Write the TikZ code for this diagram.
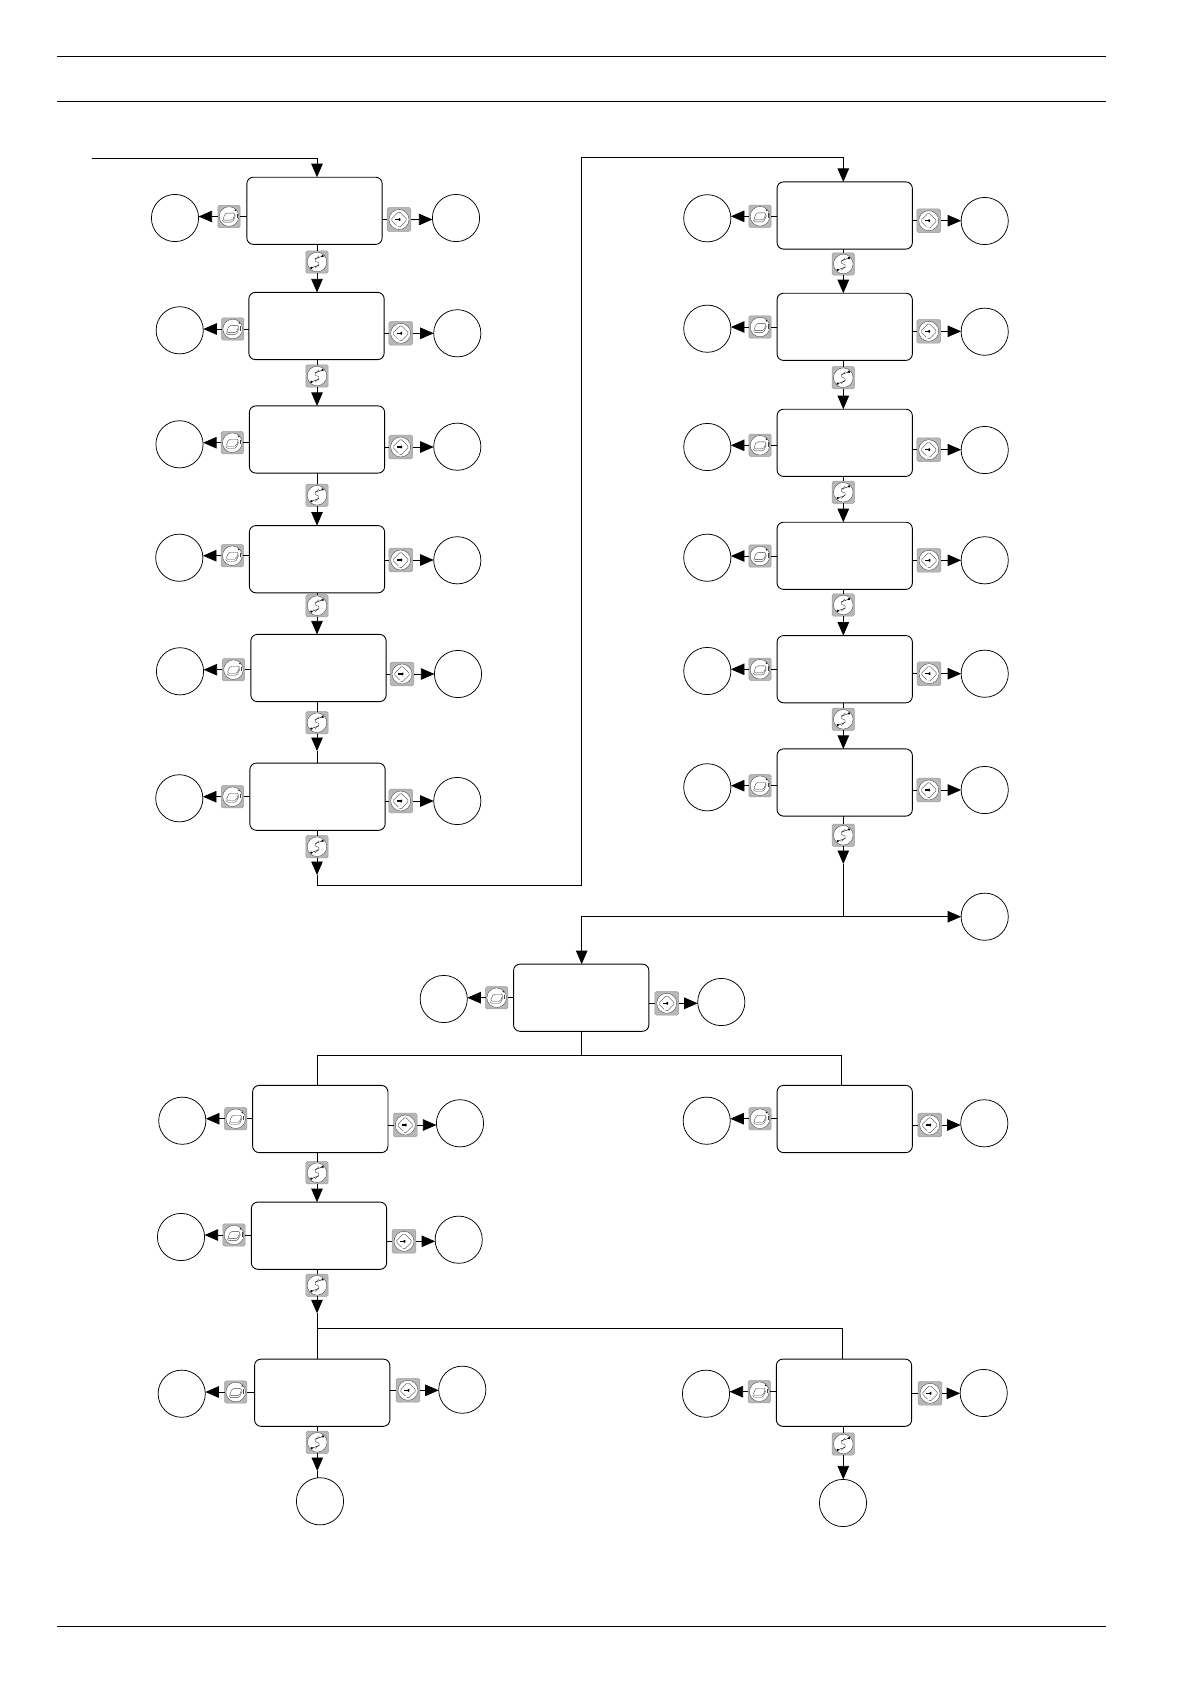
\documentclass[tikz,border=0pt]{standalone}
\usepackage{tikz}
\usetikzlibrary{arrows.meta}
\definecolor{keygrey}{gray}{0.72}
\definecolor{glyphgrey}{gray}{0.25}
\tikzset{
  menubox/.style={draw,fill=white,line width=0.9pt,rounded corners=6.5pt,minimum width=135.3bp,minimum height=67.2bp,inner sep=0pt,outer sep=0pt},
  exitnode/.style={draw,circle,fill=white,line width=0.75pt,minimum size=47.2bp,inner sep=0pt,outer sep=0pt},
  softkey/.style={draw=gray!80,fill=keygrey,line width=0.5pt,rounded corners=1.5pt,minimum size=22.3bp,inner sep=0pt,outer sep=0pt},
  flow/.style={line width=0.8pt,-{Triangle[length=13.5bp,width=11.5bp]}},
  plain/.style={line width=0.8pt},
  keyleft/.style={softkey,path picture={
    \begin{scope}[shift={(path picture bounding box.center)},glyphgrey,line width=0.35pt]
      \draw[fill=white] (0,0) circle (9.8bp);
      \draw (-6.4,3.6) -- (3.6,3.6) -- (6.4,-3.4) -- (-3.6,-3.4) -- cycle;
      \draw (-6.4,3.6) -- (-6.4,5.6) -- (3.6,5.6) -- (6.4,-0.8);
      \draw (7.8,-3) -- (7.8,1.6);
      \fill[black] (5.2,-7.4) -- (8.2,-6.6) -- (6,-4.4) -- cycle;
    \end{scope}}},
  keyright/.style={softkey,minimum size=23.6bp,path picture={
    \begin{scope}[shift={(path picture bounding box.center)},glyphgrey,line width=0.35pt]
      \draw[fill=white] (0,0) circle (10bp);
      \draw (-2.4,6) -- (-8.2,0.2) -- (0,-8.2) -- (8.2,0) -- (0,8.4) -- (-1.2,7.2);
      \draw[black,line width=1.3pt] (-3.6,0) -- (0,0);
      \fill[black] (-0.4,-2.4) -- (2.6,0) -- (-0.4,2.4) -- cycle;
    \end{scope}}},
  keydown/.style={softkey,path picture={
    \begin{scope}[shift={(path picture bounding box.center)},glyphgrey,line width=0.35pt]
      \draw[fill=white] (0,0) circle (9.8bp);
      \draw (2,-6.2) -- (-3,-1.2) -- (3,1.2) -- (-2,6.2);
      \draw[black,line width=0.4pt] (-2,-3.2) -- (5,-5.6);
      \draw[black,line width=0.4pt] (2,3.2) -- (-5,5.6);
      \fill[black] (4,-7.4) -- (7.8,-6.4) -- (5,-3.8) -- cycle;
      \fill[black] (-4,7.4) -- (-7.8,6.4) -- (-5,3.8) -- cycle;
    \end{scope}}}
}

\begin{document}
\begin{tikzpicture}[x=1bp,y=-1bp]
\useasboundingbox (0,0) rectangle (1190,1684);
\draw[plain] (57,56.2) -- (1106,56.2);
\draw[plain] (57,101.4) -- (1106,101.4);
\draw[plain] (57,1626) -- (1106,1626);

\node[menubox] (a1) at (314.5,210.8) {};
\node[exitnode] (a1cl) at (175,218) {};
\node[exitnode] (a1cr) at (456,218) {};
\node[keyleft] (a1kl) at (229,216.5) {};
\node[keyright] (a1kr) at (399,219.5) {};
\node[keydown] (a1kd) at (317,262) {};
\node[menubox] (a2) at (316.5,326) {};
\node[exitnode] (a2cl) at (179.7,330.3) {};
\node[exitnode] (a2cr) at (457.3,333.3) {};
\node[keyleft] (a2kl) at (232.7,329) {};
\node[keyright] (a2kr) at (400.7,333.3) {};
\node[keydown] (a2kd) at (317,376) {};
\node[menubox] (a3) at (317,439.5) {};
\node[exitnode] (a3cl) at (179.5,444.3) {};
\node[exitnode] (a3cr) at (457.3,446.7) {};
\node[keyleft] (a3kl) at (232.3,442.7) {};
\node[keyright] (a3kr) at (400.7,447) {};
\node[keydown] (a3kd) at (317,495.3) {};
\node[menubox] (a4) at (317,559.2) {};
\node[exitnode] (a4cl) at (179.3,557.7) {};
\node[exitnode] (a4cr) at (457.3,560.3) {};
\node[keyleft] (a4kl) at (232.3,555.7) {};
\node[keyright] (a4kr) at (400.7,560) {};
\node[keydown] (a4kd) at (317,605.7) {};
\node[menubox] (a5) at (318.5,668) {};
\node[exitnode] (a5cl) at (180,671.3) {};
\node[exitnode] (a5cr) at (458,674) {};
\node[keyleft] (a5kl) at (233.5,669.7) {};
\node[keyright] (a5kr) at (402,674) {};
\node[keydown] (a5kd) at (317,722.7) {};
\node[menubox] (a6) at (317.5,796.7) {};
\node[exitnode] (a6cl) at (179.3,798.3) {};
\node[exitnode] (a6cr) at (457.3,801) {};
\node[keyleft] (a6kl) at (232.5,796.7) {};
\node[keyright] (a6kr) at (400.7,801) {};
\node[keydown] (a6kd) at (317,846.7) {};

\node[menubox] (b1) at (844.7,215.5) {};
\node[exitnode] (b1cl) at (707.3,218.3) {};
\node[exitnode] (b1cr) at (984.7,221) {};
\node[keyleft] (b1kl) at (760,216.3) {};
\node[keyright] (b1kr) at (928.7,220.7) {};
\node[keydown] (b1kd) at (843.3,264) {};
\node[menubox] (b2) at (844.7,326.8) {};
\node[exitnode] (b2cl) at (707.3,328.7) {};
\node[exitnode] (b2cr) at (984.7,331.7) {};
\node[keyleft] (b2kl) at (760,327) {};
\node[keyright] (b2kr) at (928.7,331.3) {};
\node[keydown] (b2kd) at (843.3,377.7) {};
\node[menubox] (b3) at (844.7,442.8) {};
\node[exitnode] (b3cl) at (707.3,447) {};
\node[exitnode] (b3cr) at (984.7,450) {};
\node[keyleft] (b3kl) at (760,445.3) {};
\node[keyright] (b3kr) at (928.7,449.7) {};
\node[keydown] (b3kd) at (843.3,492.3) {};
\node[menubox] (b4) at (844.7,555.8) {};
\node[exitnode] (b4cl) at (707.3,557.7) {};
\node[exitnode] (b4cr) at (984.7,560.3) {};
\node[keyleft] (b4kl) at (760,556) {};
\node[keyright] (b4kr) at (929,560.3) {};
\node[keydown] (b4kd) at (843.3,605) {};
\node[menubox] (b5) at (844.7,669.2) {};
\node[exitnode] (b5cl) at (707.3,671) {};
\node[exitnode] (b5cr) at (984.7,673.7) {};
\node[keyleft] (b5kl) at (760,669.3) {};
\node[keyright] (b5kr) at (929,673.7) {};
\node[keydown] (b5kd) at (843.3,719.3) {};
\node[menubox] (b6) at (844.7,782.5) {};
\node[exitnode] (b6cl) at (707.3,787.3) {};
\node[exitnode] (b6cr) at (984.7,790) {};
\node[keyleft] (b6kl) at (760,785.7) {};
\node[keyright] (b6kr) at (928.7,790) {};
\node[keydown] (b6kd) at (843.3,835.3) {};
\node[exitnode] (b6cx) at (984.7,916.7) {};

\node[menubox] (c1) at (581.2,997.7) {};
\node[exitnode] (c1cl) at (443.7,999) {};
\node[exitnode] (c1cr) at (721.3,1002) {};
\node[keyleft] (c1kl) at (496.7,997.7) {};
\node[keyright] (c1kr) at (666.7,1003.3) {};

\node[menubox] (d1) at (320.3,1119) {};
\node[exitnode] (d1cl) at (182.3,1120.7) {};
\node[exitnode] (d1cr) at (460,1123.3) {};
\node[keyleft] (d1kl) at (235.7,1118.7) {};
\node[keyright] (d1kr) at (405.3,1125) {};
\node[keydown] (d1kd) at (317,1172.7) {};
\node[menubox] (d2) at (319,1235.7) {};
\node[exitnode] (d2cl) at (181,1237) {};
\node[exitnode] (d2cr) at (458.7,1239.7) {};
\node[keyleft] (d2kl) at (234,1235) {};
\node[keyright] (d2kr) at (404,1241.3) {};
\node[keydown] (d2kd) at (317,1285.3) {};
\node[menubox] (d3) at (844.7,1119) {};
\node[exitnode] (d3cl) at (706.7,1120.7) {};
\node[exitnode] (d3cr) at (984.3,1123.3) {};
\node[keyleft] (d3kl) at (760,1118.7) {};
\node[keyright] (d3kr) at (929.7,1125) {};

\node[menubox] (e1) at (322.2,1392.7) {};
\node[exitnode] (e1cl) at (181.7,1393.7) {};
\node[exitnode] (e1cr) at (462.3,1389.7) {};
\node[keyleft] (e1kl) at (235.7,1392) {};
\node[keyright] (e1kr) at (408,1390.3) {};
\node[keydown] (e1kd) at (317.3,1442.3) {};
\node[exitnode] (e1cd) at (320,1501.3) {};
\node[menubox] (e2) at (844,1392.7) {};
\node[exitnode] (e2cl) at (706,1393.7) {};
\node[exitnode] (e2cr) at (983.7,1393) {};
\node[keyleft] (e2kl) at (759.3,1391.7) {};
\node[keyright] (e2kr) at (930,1393.3) {};
\node[keydown] (e2kd) at (843.3,1444) {};
\node[exitnode] (e2cd) at (843,1503) {};

\coordinate (start) at (92,158);
\coordinate (a5t) at (317,751);
\coordinate (a6t) at (317,875);
\coordinate (loopa) at (581.7,885.3);
\coordinate (loopb) at (581.7,157.3);
\coordinate (b6t) at (843.3,864);
\coordinate (b6j) at (843.3,916.7);
\coordinate (c1j) at (581.7,1055.3);
\coordinate (d1in) at (317,1085.3);
\coordinate (d3in) at (841.7,1085.3);
\coordinate (d2t) at (317,1313.3);
\coordinate (d2j) at (317,1328.3);
\coordinate (e2in) at (842.3,1359);
\coordinate (e1t) at (317.3,1471);

\draw[flow] (start) -| (a1kd |- a1.north);
\draw[plain] (a1kd |- a1.south) -- (a1kd);
\draw[flow] (a1kd) -- (a1kd |- a2.north);
\draw[plain] (a2kd |- a2.south) -- (a2kd);
\draw[flow] (a2kd) -- (a2kd |- a3.north);
\draw[plain] (a3kd |- a3.south) -- (a3kd);
\draw[flow] (a3kd) -- (a3kd |- a4.north);
\draw[plain] (a4kd |- a4.south) -- (a4kd);
\draw[flow] (a4kd) -- (a4kd |- a5.north);
\draw[plain] (a5kd |- a5.south) -- (a5kd);
\draw[flow] (a5kd) -- (a5t);
\draw[plain] (a5t) -- (a5t |- a6.north);
\draw[plain] (a6kd |- a6.south) -- (a6kd);
\draw[flow] (a6kd) -- (a6t);
\draw[flow] (a6t) |- (loopa) -- (loopb) -| (b1kd |- b1.north);

\draw[plain] (b1kd |- b1.south) -- (b1kd);
\draw[flow] (b1kd) -- (b1kd |- b2.north);
\draw[plain] (b2kd |- b2.south) -- (b2kd);
\draw[flow] (b2kd) -- (b2kd |- b3.north);
\draw[plain] (b3kd |- b3.south) -- (b3kd);
\draw[flow] (b3kd) -- (b3kd |- b4.north);
\draw[plain] (b4kd |- b4.south) -- (b4kd);
\draw[flow] (b4kd) -- (b4kd |- b5.north);
\draw[plain] (b5kd |- b5.south) -- (b5kd);
\draw[flow] (b5kd) -- (b5kd |- b6.north);
\draw[plain] (b6kd |- b6.south) -- (b6kd);
\draw[flow] (b6kd) -- (b6t);
\draw[plain] (b6t) -- (b6j);
\draw[flow] (b6j) -- (b6cx);
\draw[flow] (b6j) -| (c1j |- c1.north);

\draw[plain] (c1j |- c1.south) -- (c1j);
\draw[plain] (d1in) |- (c1j);
\draw[plain] (c1j) -| (d3in);
\draw[plain] (d1kd |- d1.south) -- (d1kd);
\draw[flow] (d1kd) -- (d1kd |- d2.north);
\draw[plain] (d2kd |- d2.south) -- (d2kd);
\draw[flow] (d2kd) -- (d2t);
\draw[plain] (d2t) -- (d2t |- e1.north);
\draw[plain] (d2j) -| (e2in);
\draw[plain] (e1kd |- e1.south) -- (e1kd);
\draw[flow] (e1kd) -- (e1t);
\draw[plain] (e1t) -- (e1t |- e1cd.north);
\draw[plain] (e2kd |- e2.south) -- (e2kd);
\draw[flow] (e2kd) -- (e2kd |- e2cd.north);

\draw[plain] (a1.west |- a1kl) -- (a1kl);
\draw[flow] (a1kl) -- (a1kl -| a1cl.east);
\draw[plain] (a1.east |- a1kr) -- (a1kr);
\draw[flow] (a1kr) -- (a1kr -| a1cr.west);
\draw[plain] (a2.west |- a2kl) -- (a2kl);
\draw[flow] (a2kl) -- (a2kl -| a2cl.east);
\draw[plain] (a2.east |- a2kr) -- (a2kr);
\draw[flow] (a2kr) -- (a2kr -| a2cr.west);
\draw[plain] (a3.west |- a3kl) -- (a3kl);
\draw[flow] (a3kl) -- (a3kl -| a3cl.east);
\draw[plain] (a3.east |- a3kr) -- (a3kr);
\draw[flow] (a3kr) -- (a3kr -| a3cr.west);
\draw[plain] (a4.west |- a4kl) -- (a4kl);
\draw[flow] (a4kl) -- (a4kl -| a4cl.east);
\draw[plain] (a4.east |- a4kr) -- (a4kr);
\draw[flow] (a4kr) -- (a4kr -| a4cr.west);
\draw[plain] (a5.west |- a5kl) -- (a5kl);
\draw[flow] (a5kl) -- (a5kl -| a5cl.east);
\draw[plain] (a5.east |- a5kr) -- (a5kr);
\draw[flow] (a5kr) -- (a5kr -| a5cr.west);
\draw[plain] (a6.west |- a6kl) -- (a6kl);
\draw[flow] (a6kl) -- (a6kl -| a6cl.east);
\draw[plain] (a6.east |- a6kr) -- (a6kr);
\draw[flow] (a6kr) -- (a6kr -| a6cr.west);

\draw[plain] (b1.west |- b1kl) -- (b1kl);
\draw[flow] (b1kl) -- (b1kl -| b1cl.east);
\draw[plain] (b1.east |- b1kr) -- (b1kr);
\draw[flow] (b1kr) -- (b1kr -| b1cr.west);
\draw[plain] (b2.west |- b2kl) -- (b2kl);
\draw[flow] (b2kl) -- (b2kl -| b2cl.east);
\draw[plain] (b2.east |- b2kr) -- (b2kr);
\draw[flow] (b2kr) -- (b2kr -| b2cr.west);
\draw[plain] (b3.west |- b3kl) -- (b3kl);
\draw[flow] (b3kl) -- (b3kl -| b3cl.east);
\draw[plain] (b3.east |- b3kr) -- (b3kr);
\draw[flow] (b3kr) -- (b3kr -| b3cr.west);
\draw[plain] (b4.west |- b4kl) -- (b4kl);
\draw[flow] (b4kl) -- (b4kl -| b4cl.east);
\draw[plain] (b4.east |- b4kr) -- (b4kr);
\draw[flow] (b4kr) -- (b4kr -| b4cr.west);
\draw[plain] (b5.west |- b5kl) -- (b5kl);
\draw[flow] (b5kl) -- (b5kl -| b5cl.east);
\draw[plain] (b5.east |- b5kr) -- (b5kr);
\draw[flow] (b5kr) -- (b5kr -| b5cr.west);
\draw[plain] (b6.west |- b6kl) -- (b6kl);
\draw[flow] (b6kl) -- (b6kl -| b6cl.east);
\draw[plain] (b6.east |- b6kr) -- (b6kr);
\draw[flow] (b6kr) -- (b6kr -| b6cr.west);

\draw[plain] (c1.west |- c1kl) -- (c1kl);
\draw[flow] (c1kl) -- (c1kl -| c1cl.east);
\draw[plain] (c1.east |- c1kr) -- (c1kr);
\draw[flow] (c1kr) -- (c1kr -| c1cr.west);

\draw[plain] (d1.west |- d1kl) -- (d1kl);
\draw[flow] (d1kl) -- (d1kl -| d1cl.east);
\draw[plain] (d1.east |- d1kr) -- (d1kr);
\draw[flow] (d1kr) -- (d1kr -| d1cr.west);
\draw[plain] (d2.west |- d2kl) -- (d2kl);
\draw[flow] (d2kl) -- (d2kl -| d2cl.east);
\draw[plain] (d2.east |- d2kr) -- (d2kr);
\draw[flow] (d2kr) -- (d2kr -| d2cr.west);
\draw[plain] (d3.west |- d3kl) -- (d3kl);
\draw[flow] (d3kl) -- (d3kl -| d3cl.east);
\draw[plain] (d3.east |- d3kr) -- (d3kr);
\draw[flow] (d3kr) -- (d3kr -| d3cr.west);

\draw[plain] (e1.west |- e1kl) -- (e1kl);
\draw[flow] (e1kl) -- (e1kl -| e1cl.east);
\draw[plain] (e1.east |- e1kr) -- (e1kr);
\draw[flow] (e1kr) -- (e1kr -| e1cr.west);
\draw[plain] (e2.west |- e2kl) -- (e2kl);
\draw[flow] (e2kl) -- (e2kl -| e2cl.east);
\draw[plain] (e2.east |- e2kr) -- (e2kr);
\draw[flow] (e2kr) -- (e2kr -| e2cr.west);
\end{tikzpicture}
\end{document}
